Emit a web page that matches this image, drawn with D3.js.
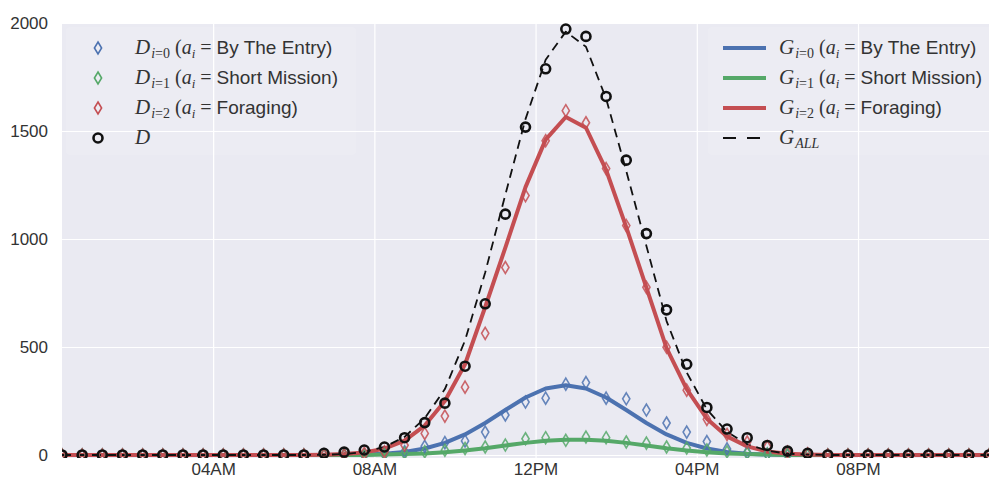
<!DOCTYPE html>
<html lang="en">
<head>
    <meta charset="UTF-8">
    <title>Activity fit</title>
    <script src="https://cdn.jsdelivr.net/npm/d3@7/dist/d3.min.js"></script>
    <style>
        body { margin: 0; background: #fff; }
        text { font-family: "Liberation Sans", Arial, sans-serif; fill: #333; }
    </style>
</head>
<body>
<div class="chart"></div>
<script>
    const width = 999
    const height = 485
    const plot = { left: 62, right: 989, top: 23, bottom: 458 }

    // half-hour bins, 00:15 .. 23:15
    const startTime = new Date(2016, 0, 1, 0, 15)
    const stepMinutes = 30
    const tickHours = [4, 8, 12, 16, 20]
    const yTicks = [0, 500, 1000, 1500, 2000]

    // observed counts (markers)
    const D0 = [0,0,0,0,0,0,0,0,0,0,0,0,0,0,0,0, 5,15,40,57,65,106,185,245,263,328,335,263,260,208,148,106,62,28,12,4, 0,0,0,0,0,0,0,0,0,0,0]
    const D1 = [0,0,0,0,0,0,0,0,0,0,0,0,0,0,0,0, 3,8,15,22,30,37,46,75,80,68,83,80,60,55,37,32,23,15,8,4,2, 0,0,0,0,0,0,0,0,0,0]
    const D2 = [0,0,0,0,0,0,0,0,0,0,0,0,0,0,0, 8,15,45,100,180,314,563,868,1201,1455,1594,1538,1326,1062,776,499,300,165,95,60,38,14,6, 0,0,0,0,0,0,0,0,0]
    const D = [0,0,0,0,0,0,0,0,0,0,0,0,0, 8,13,23,37,80,150,240,411,700,1115,1518,1788,1972,1938,1660,1365,1025,672,420,220,120,80,44,18,8, 0,0,0,0,0,0,0,0,0]

    // fitted curves (lines)
    const G0 = [0,0,0,0,0,0,0,0,0,0,0,0,0,0,0, 2,6,14,30,56,95,148,208,266,308,323,308,266,208,148,95,56,30,14,6,2, 0,0,0,0,0,0,0,0,0,0,0]
    const G1 = [0,0,0,0,0,0,0,0,0,0,0,0,0,0,0,0, 2,4,7,13,21,31,44,56,66,71,71,66,56,44,31,21,13,7,4,2, 0,0,0,0,0,0,0,0,0,0,0]
    const G2 = [0,0,0,0,0,0,0,0,0,0,0,0,0, 1,4,12,29,66,136,250,420,685,960,1240,1460,1565,1515,1320,1055,775,495,305,168,86,40,16,6,2, 0,0,0,0,0,0,0,0,0]
    const GALL = [0,0,0,0,0,0,0,0,0,0,0,0,0, 1,4,14,37,84,170,305,530,845,1205,1555,1830,1960,1890,1650,1315,968,620,382,211,107,50,20,6,2, 0,0,0,0,0,0,0,0,0]

    const blue = '#4C72B0'
    const green = '#55A868'
    const red = '#C44E52'

    const times = D.map((_, i) => new Date(startTime.getTime() + i * stepMinutes * 60000))

    const xScale = d3.scaleTime()
        .domain([times[0], times[times.length - 1]])
        .range([plot.left, plot.right])

    const yScale = d3.scaleLinear()
        .domain([-14, 2000])
        .range([plot.bottom, plot.top])

    const svg = d3.select('.chart')
        .append('svg')
        .attr('width', width)
        .attr('height', height)

    svg.append('defs').append('clipPath').attr('id', 'clip')
        .append('rect')
        .attr('x', plot.left).attr('y', plot.top)
        .attr('width', plot.right - plot.left).attr('height', plot.bottom - plot.top)

    svg.append('rect')
        .attr('x', plot.left).attr('y', plot.top)
        .attr('width', plot.right - plot.left).attr('height', plot.bottom - plot.top)
        .attr('fill', '#EAEAF2')

    const tickDates = tickHours.map(h => new Date(2016, 0, 1, h, 0))

    // grid + tick labels
    const xAxis = d3.axisBottom(xScale)
        .tickValues(tickDates)
        .tickFormat(d3.timeFormat('%I%p'))
        .tickSize(-(plot.bottom - plot.top))
        .tickPadding(5)
    svg.append('g')
        .attr('class', 'xaxis')
        .attr('transform', `translate(0, ${plot.bottom})`)
        .call(xAxis)
        .call(g => g.select('.domain').remove())
        .call(g => g.selectAll('line').attr('stroke', '#fff').attr('stroke-width', 1.2))
        .call(g => g.selectAll('text').attr('font-size', '17px').attr('fill', '#333'))

    const yAxis = d3.axisLeft(yScale)
        .tickValues(yTicks)
        .tickFormat(d3.format('d'))
        .tickSize(-(plot.right - plot.left))
        .tickPadding(14)
    svg.append('g')
        .attr('class', 'yaxis')
        .attr('transform', `translate(${plot.left}, 0)`)
        .call(yAxis)
        .call(g => g.select('.domain').remove())
        .call(g => g.selectAll('line').attr('stroke', '#fff').attr('stroke-width', 1.2))
        .call(g => g.selectAll('text').attr('font-size', '17px').attr('fill', '#333'))

    // faint legend backgrounds
    svg.append('rect').attr('x', 66).attr('y', 27).attr('width', 290).attr('height', 128)
        .attr('rx', 4).attr('fill', '#fff').attr('opacity', 0.12)
    svg.append('rect').attr('x', 708).attr('y', 27).attr('width', 284).attr('height', 128)
        .attr('rx', 4).attr('fill', '#fff').attr('opacity', 0.12)

    const body = svg.append('g').attr('clip-path', 'url(#clip)')

    const line = d3.line()
        .x((d, i) => xScale(times[i]))
        .y(d => yScale(d))

    const diamond = 'M0,-6L3.6,0L0,6L-3.6,0Z'

    function drawDiamonds(values, color) {
        body.append('g')
            .selectAll('path')
            .data(values)
            .enter()
            .append('path')
            .attr('d', diamond)
            .attr('transform', (d, i) => `translate(${xScale(times[i])}, ${yScale(d)})`)
            .attr('fill', 'none')
            .attr('stroke', color)
            .attr('stroke-width', 1.6)
            .attr('opacity', 0.85)
    }

    function drawLine(values, color, w, dash) {
        body.append('path')
            .datum(values)
            .attr('d', line)
            .attr('fill', 'none')
            .attr('stroke', color)
            .attr('stroke-width', w)
            .attr('stroke-dasharray', dash || null)
            .attr('stroke-linejoin', 'round')
    }

    drawLine(G0, blue, 4)
    drawLine(G1, green, 4)
    drawLine(G2, red, 4)
    drawLine(GALL, '#111', 1.8, '9,6')

    drawDiamonds(D0, blue)
    drawDiamonds(D1, green)
    drawDiamonds(D2, red)

    body.append('g')
        .selectAll('circle')
        .data(D)
        .enter()
        .append('circle')
        .attr('cx', (d, i) => xScale(times[i]))
        .attr('cy', d => yScale(d))
        .attr('r', 4.5)
        .attr('fill', 'none')
        .attr('stroke', '#111')
        .attr('stroke-width', 2.6)

    // legend text with math parts
    const serif = '"Liberation Serif", "DejaVu Serif", serif'
    const sans = '"Liberation Sans", Arial, sans-serif'

    function mathLabel(x, y, sym, sub, rest) {
        const t = svg.append('text').attr('x', x).attr('y', y).attr('fill', '#262626')
        t.append('tspan').text(sym).attr('font-family', serif).attr('font-style', 'italic').attr('font-size', '21px')
        if (sub) {
            t.append('tspan').text(sub[0]).attr('font-family', serif).attr('font-style', 'italic').attr('font-size', '14px').attr('dy', 4).attr('dx', 1)
            if (sub[1]) t.append('tspan').text(sub[1]).attr('font-family', serif).attr('font-size', '14px')
        }
        if (rest) {
            t.append('tspan').text(' (').attr('font-family', serif).attr('font-size', '20px').attr('dy', sub ? -4 : 0)
            t.append('tspan').text('a').attr('font-family', serif).attr('font-style', 'italic').attr('font-size', '20px')
            t.append('tspan').text('i').attr('font-family', serif).attr('font-style', 'italic').attr('font-size', '13px').attr('dy', 4)
            t.append('tspan').text(' = ').attr('font-family', serif).attr('font-size', '20px').attr('dy', -4)
            t.append('tspan').text(rest).attr('font-family', sans).attr('font-size', '19px')
        }
        return t
    }

    const legendRows = [48, 78, 108, 138]
    const activities = ['By The Entry)', 'Short Mission)', 'Foraging)']
    const colorsD = [blue, green, red]

    colorsD.forEach((c, i) => {
        svg.append('path').attr('d', diamond)
            .attr('transform', `translate(98, ${legendRows[i]})`)
            .attr('fill', 'none').attr('stroke', c).attr('stroke-width', 1.6)
        mathLabel(135, legendRows[i] + 6, 'D', ['i', '=' + i], activities[i])

        svg.append('line')
            .attr('x1', 723).attr('x2', 766)
            .attr('y1', legendRows[i]).attr('y2', legendRows[i])
            .attr('stroke', c).attr('stroke-width', 4)
        mathLabel(779, legendRows[i] + 6, 'G', ['i', '=' + i], activities[i])
    })

    svg.append('circle').attr('cx', 98).attr('cy', legendRows[3]).attr('r', 4.5)
        .attr('fill', 'none').attr('stroke', '#111').attr('stroke-width', 2.6)
    mathLabel(135, legendRows[3] + 6, 'D', null, null)

    svg.append('line')
        .attr('x1', 723).attr('x2', 766)
        .attr('y1', legendRows[3]).attr('y2', legendRows[3])
        .attr('stroke', '#111').attr('stroke-width', 1.8).attr('stroke-dasharray', '13,11')
    mathLabel(779, legendRows[3] + 6, 'G', ['ALL', null], null)
</script>
</body>
</html>
